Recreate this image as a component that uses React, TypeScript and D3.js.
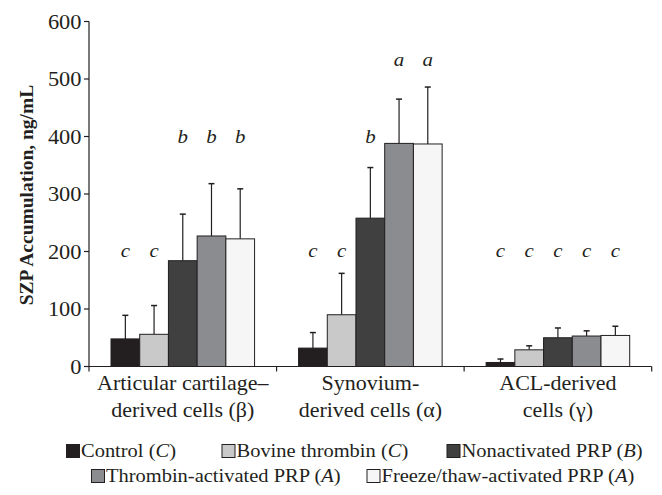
import React from "react";
import * as d3 from "d3";

const groups = ["Articular cartilage–|derived cells (β)", "Synovium-|derived cells (α)", "ACL-derived|cells (γ)"];
const seriesNames = ["Control", "Bovine thrombin", "Nonactivated PRP", "Thrombin-activated PRP", "Freeze/thaw-activated PRP"];
const seriesTags = ["C", "C", "B", "A", "A"];
const seriesColors = ["#231f20", "#c9c9ca", "#404040", "#8b8c90", "#f6f6f6"];
const means = [
  [48, 56, 184, 227, 222],
  [32, 90, 258, 388, 387],
  [7, 29, 50, 53, 54],
];
const errors = [
  [41, 50, 81, 91, 87],
  [27, 72, 88, 77, 99],
  [6, 7, 17, 9, 16],
];
const letters = [
  ["c", "c", "b", "b", "b"],
  ["c", "c", "b", "a", "a"],
  ["c", "c", "c", "c", "c"],
];
const letterLevel: Record<string, number> = { c: 202, b: 401, a: 534 };
const yTicks = [0, 100, 200, 300, 400, 500, 600];

const FONT = "'Liberation Serif', 'Times New Roman', serif";

function SText(props: { x: number; y: number; anchor?: string; size: number; italic?: boolean; sx?: number; children: React.ReactNode; dy?: string }) {
  const k = props.sx ?? 1.1;
  return (
    <g transform={`translate(${props.x},${props.y}) scale(${k},1)`}>
      <text x={0} y={0} dy={props.dy} textAnchor={props.anchor || "start"} fontSize={props.size} fontStyle={props.italic ? "italic" : "normal"} fill="#231f20">
        {props.children}
      </text>
    </g>
  );
}

export default function App() {
  const W = 662, H = 495;
  const x0 = 89, x1 = 651.7, yTop = 21.5, yBot = 366.5;
  const y = d3.scaleLinear().domain([0, 600]).range([yBot, yTop]);
  const xg = d3.scaleBand<number>().domain(d3.range(groups.length)).range([x0, x1]).padding(0);
  const bw = xg.bandwidth();
  const xs = d3.scaleBand<number>().domain(d3.range(seriesNames.length)).range([22, bw - 22]).padding(0);

  const legendItems = [
    { i: 0, sx: 66.5, ty: 457 },
    { i: 1, sx: 222, ty: 457 },
    { i: 2, sx: 447, ty: 457 },
    { i: 3, sx: 91.5, ty: 482 },
    { i: 4, sx: 367, ty: 482 },
  ];

  return (
    <svg width={W} height={H} style={{ position: "absolute", left: 0, top: 0, background: "#fff" }} fontFamily={FONT}>
      {/* y axis */}
      <line x1={x0} x2={x0} y1={yTop} y2={yBot} stroke="#231f20" strokeWidth={1.2} />
      {yTicks.map((t) => (
        <g key={t}>
          <line x1={x0 - 5} x2={x0} y1={y(t)} y2={y(t)} stroke="#231f20" strokeWidth={1.2} />
          <SText x={x0 - 7.5} y={y(t)} dy="0.35em" anchor="end" size={20} sx={1.12}>{t}</SText>
        </g>
      ))}
      <text transform={`translate(26,${195}) rotate(-90)`} textAnchor="middle" dy="0.35em" fontSize={19.5} fontWeight="bold" fill="#231f20">
        SZP Accumulation, ng/mL
      </text>
      {/* x axis */}
      <line x1={x0} x2={x1} y1={yBot} y2={yBot} stroke="#231f20" strokeWidth={1.2} />
      {d3.range(groups.length + 1).map((k) => {
        const xx = x0 + k * bw;
        return <line key={k} x1={xx} x2={xx} y1={yBot} y2={yBot + 5} stroke="#231f20" strokeWidth={1.2} />;
      })}
      {groups.map((g, gi) => {
        const cx = (xg(gi) as number) + bw / 2;
        const lines = g.split("|");
        return (
          <g key={gi}>
            <SText x={cx} y={390} anchor="middle" size={20}>{lines[0]}</SText>
            <SText x={cx} y={416.5} anchor="middle" size={20}>{lines[1]}</SText>
          </g>
        );
      })}
      {/* bars */}
      {means.map((row, gi) => (
        <g key={gi} transform={`translate(${xg(gi)},0)`}>
          {row.map((v, si) => {
            const bx = xs(si) as number;
            const cx = bx + xs.bandwidth() / 2;
            const top = y(v + errors[gi][si]);
            return (
              <g key={si}>
                <line x1={cx} x2={cx} y1={y(v)} y2={top} stroke="#231f20" strokeWidth={1.2} />
                <line x1={cx - 3} x2={cx + 3} y1={top} y2={top} stroke="#231f20" strokeWidth={1.5} />
                <rect x={bx} y={y(v)} width={xs.bandwidth()} height={yBot - y(v)} fill={seriesColors[si]} stroke="#231f20" strokeWidth={1} />
                <SText x={cx} y={y(letterLevel[letters[gi][si]])} dy="0.35em" anchor="middle" size={19} italic>
                  {letters[gi][si]}
                </SText>
              </g>
            );
          })}
        </g>
      ))}
      {/* legend */}
      {legendItems.map(({ i, sx, ty }) => (
        <g key={i}>
          <rect x={sx} y={ty - 12.5} width={13} height={13} fill={seriesColors[i]} stroke="#231f20" strokeWidth={1} />
          <SText x={sx + 14.5} y={ty} size={19.5} sx={1.05}>
            {seriesNames[i]} (<tspan fontStyle="italic">{seriesTags[i]}</tspan>)
          </SText>
        </g>
      ))}
    </svg>
  );
}
